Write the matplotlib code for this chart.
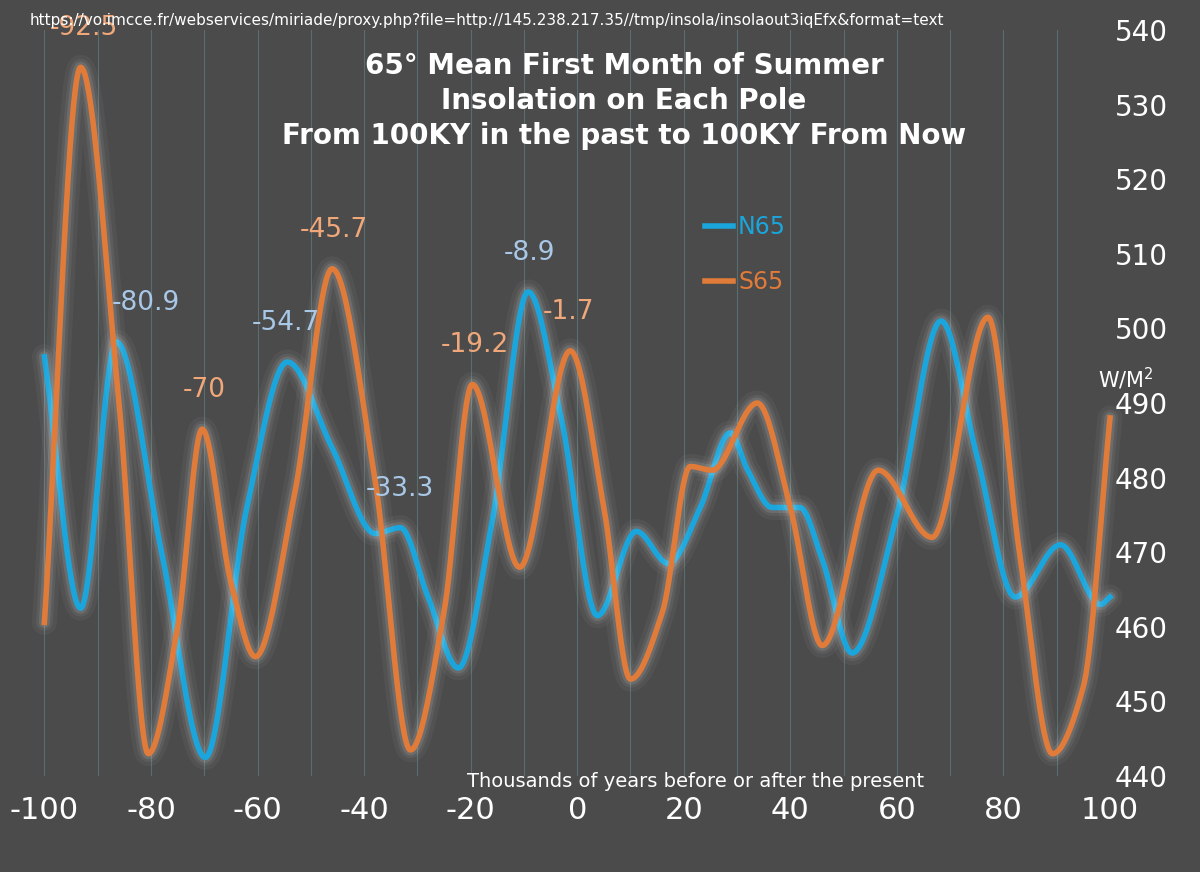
import numpy as np
import matplotlib.pyplot as plt

plt.rcParams['axes.unicode_minus'] = False

# key points (thousands of years, W/m2)
n65_x = [-100, -93.2, -86.5, -78, -69.8, -62, -54.4, -46, -37.9, -33.2, -28, -22.3, -16, -9.2, -3, 3.8, 11.1, 17.1, 23.1, 28.7, 32, 36.6, 41.8, 46, 51.6, 60, 68.3, 75, 82.2, 90.7, 98.2, 100]
n65_y = [496.2, 462.5, 498.2, 470, 442.5, 476, 495.5, 484, 472.5, 473.3, 464, 454.5, 474, 504.9, 488, 461.5, 472.8, 468.5, 476, 486, 481, 476, 476, 469, 456.5, 475, 501, 483, 464, 471, 463, 464]
s65_x = [-100, -93.2, -86, -80.5, -75, -70.4, -65, -60.4, -53, -46, -38, -31.3, -25, -19.7, -10.8, -1.3, 5, 10, 16, 21.2, 25.3, 33.8, 40, 46, 56.5, 66.6, 77.1, 83, 89.2, 95, 100]
s65_y = [460.6, 535, 490, 443, 460, 486.5, 466, 456, 478, 508, 480, 443.5, 462, 492.5, 468, 497, 476, 453, 462, 481.5, 481, 490, 476, 457.5, 481, 472, 501.5, 470, 443, 452, 488]

peaks = [(-92.5, 535, '-92.5', 's'), (-80.9, 498.2, '-80.9', 'n'), (-70, 486.5, '-70', 's'),
         (-54.7, 495.5, '-54.7', 'n'), (-45.7, 508, '-45.7', 's'), (-33.3, 473.3, '-33.3', 'n'),
         (-19.2, 492.5, '-19.2', 's'), (-8.9, 504.9, '-8.9', 'n'), (-1.7, 497, '-1.7', 's')]


def pchip(x, y, xs):
    x = np.asarray(x, float); y = np.asarray(y, float)
    h = np.diff(x); d = np.diff(y) / h
    m = np.zeros_like(y)
    for k in range(1, len(x) - 1):
        if d[k - 1] * d[k] > 0:
            w1 = 2 * h[k] + h[k - 1]; w2 = h[k] + 2 * h[k - 1]
            m[k] = (w1 + w2) / (w1 / d[k - 1] + w2 / d[k])
    m[0] = d[0]; m[-1] = d[-1]
    idx = np.clip(np.searchsorted(x, xs) - 1, 0, len(h) - 1)
    t = (xs - x[idx]) / h[idx]
    h00 = 2 * t**3 - 3 * t**2 + 1; h10 = t**3 - 2 * t**2 + t
    h01 = -2 * t**3 + 3 * t**2; h11 = t**3 - t**2
    return h00 * y[idx] + h10 * h[idx] * m[idx] + h01 * y[idx + 1] + h11 * h[idx] * m[idx + 1]


bg = '#4b4b4b'
blue = '#1aa6dc'
orange = '#e07b39'
fig = plt.figure(figsize=(12, 8.72), dpi=100, facecolor=bg)
ax = fig.add_axes([0.037, 0.11, 0.888, 0.8556], facecolor=bg)

xs = np.linspace(-100, 100, 1200)
for xx, yy, c, lab in [(n65_x, n65_y, blue, 'N65'), (s65_x, s65_y, orange, 'S65')]:
    ys = pchip(xx, yy, xs)
    for lw, a in [(18, 0.04), (12, 0.06), (8, 0.1)]:
        ax.plot(xs, ys, color='white', lw=lw, alpha=a, solid_capstyle='round', clip_on=False)
    ax.plot(xs, ys, color=c, lw=4, label=lab, clip_on=False)

for x, y, t, s in peaks:
    col = '#a9c8e8' if s == 'n' else '#f0a87a'
    ax.text(x, y + 3.5, t, color=col, fontsize=19, ha='center', va='bottom')

ax.set_xlim(-100, 100)
ax.set_ylim(440, 540)
ax.set_xticks(range(-100, 101, 20))
ax.set_xticks(range(-100, 101, 10), minor=True)
ax.grid(axis='x', which='both', color='#5a6e70', lw=0.8)
ax.yaxis.tick_right()
ax.set_yticks(range(440, 541, 10))
ax.tick_params(which='both', colors='white', labelsize=20, length=0)
ax.tick_params(axis='x', labelsize=22, pad=14)
for sp in ax.spines.values():
    sp.set_visible(False)

leg = ax.legend(loc='upper left', bbox_to_anchor=(0.6, 0.78), frameon=False, fontsize=17,
                handlelength=1.2, handletextpad=0.2, labelspacing=1.3, labelcolor='linecolor')

fig.text(0.025, 0.976, 'https://vo.imcce.fr/webservices/miriade/proxy.php?file=http://145.238.217.35//tmp/insola/insolaout3iqEfx&format=text',
         color='white', fontsize=11, ha='left', va='center')
fig.text(0.52, 0.94, '65° Mean First Month of Summer\nInsolation on Each Pole\nFrom 100KY in the past to 100KY From Now',
         color='white', fontsize=20, fontweight='bold', ha='center', va='top', linespacing=1.3)
fig.text(0.58, 0.097, 'Thousands of years before or after the present', color='white', fontsize=14, ha='center')
fig.text(0.915, 0.555, 'W/M$^2$', color='white', fontsize=15, ha='left')

fig.savefig('out.png', dpi=100, facecolor=bg)
